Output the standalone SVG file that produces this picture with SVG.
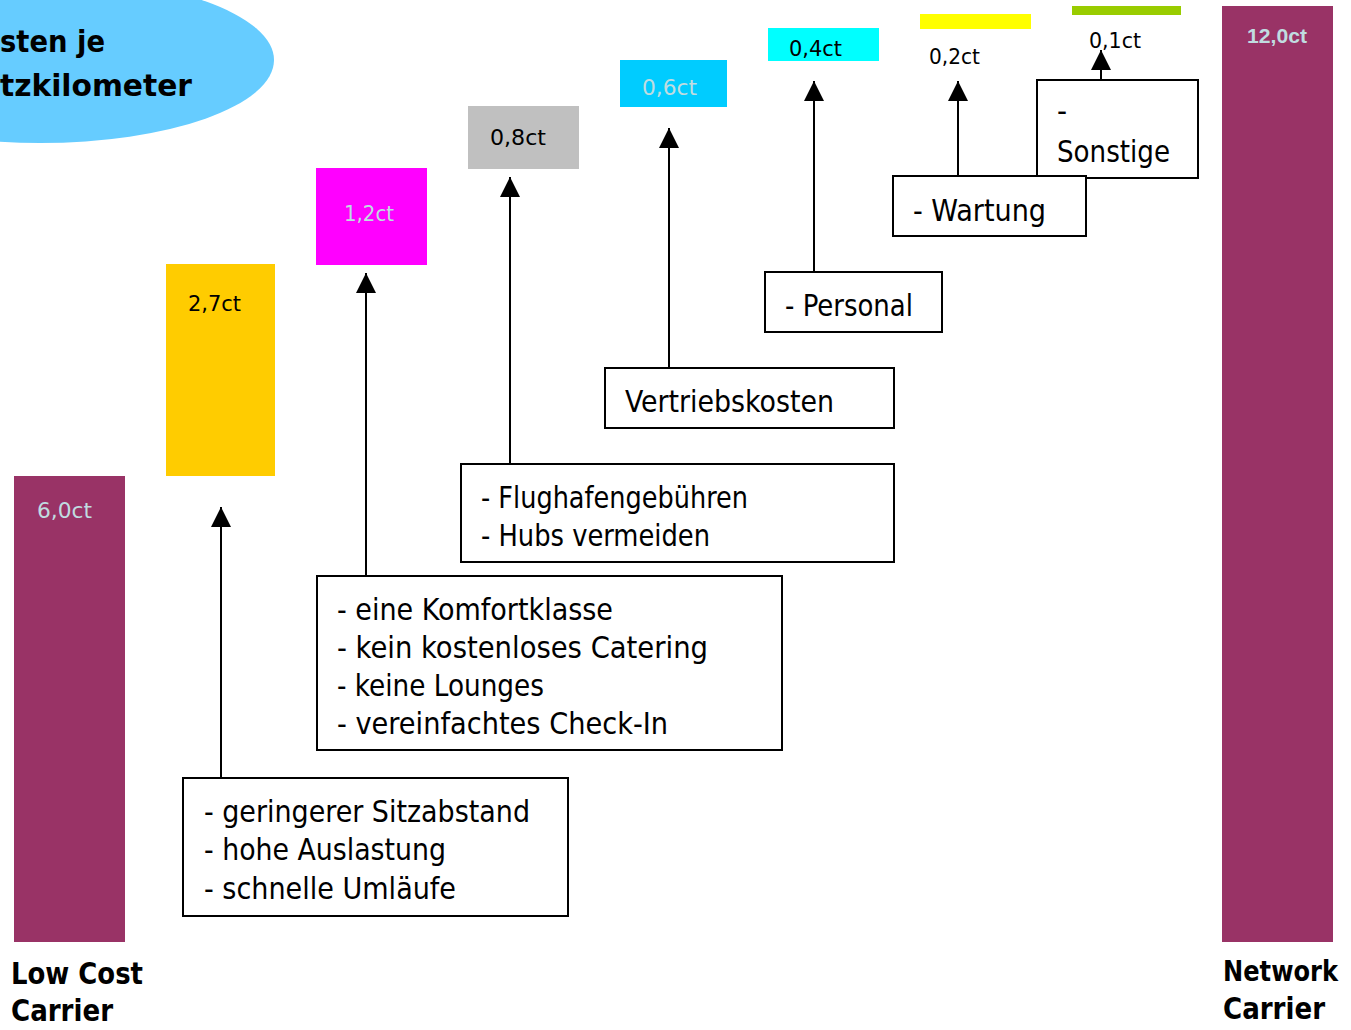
<svg xmlns="http://www.w3.org/2000/svg" width="1351" height="1030" viewBox="0 0 1351 1030">
<defs>
<style>
.t{font-family:"Liberation Sans Narrow","DejaVu Sans Condensed","Liberation Sans",sans-serif;font-size:31px;fill:#000}
.v{font-family:"Liberation Sans Narrow","DejaVu Sans Condensed","Liberation Sans",sans-serif;font-size:22px}
.h{font-family:"Liberation Sans Narrow","DejaVu Sans Condensed","Liberation Sans",sans-serif;font-size:31px;font-weight:bold;fill:#000}
.lt{fill:#C0DCE0}
.bx{fill:#fff;stroke:#000;stroke-width:2}
.c{stroke:#000;stroke-width:2;fill:none;marker-end:url(#ah)}
</style>
<marker id="ah" viewBox="0 0 10 10" refX="10" refY="5" markerUnits="userSpaceOnUse" markerWidth="20" markerHeight="21" orient="auto">
<path d="M0,0 L10,5 L0,10 Z" fill="#000"/>
</marker>
</defs>
<rect width="1351" height="1030" fill="#fff"/>

<g id="title">
<ellipse cx="40" cy="60" rx="234" ry="83" fill="#66CCFF"/>
<text class="h" x="0" y="52" textLength="105" lengthAdjust="spacingAndGlyphs">sten je</text>
<text class="h" x="0" y="96" textLength="192" lengthAdjust="spacingAndGlyphs">tzkilometer</text>
</g>

<g id="bar-lowcost">
<rect x="14" y="476" width="111" height="466" fill="#993366"/>
<text class="v lt" x="37" y="518" textLength="55" lengthAdjust="spacingAndGlyphs">6,0ct</text>
<text class="h" x="11" y="984" textLength="132" lengthAdjust="spacingAndGlyphs">Low Cost</text>
<text class="h" x="11" y="1021" textLength="102" lengthAdjust="spacingAndGlyphs">Carrier</text>
</g>

<g id="bar-27">
<rect x="166" y="264" width="109" height="212" fill="#FFCC00"/>
<text class="v" x="188" y="311" textLength="53" lengthAdjust="spacingAndGlyphs">2,7ct</text>
</g>
<g id="bar-12">
<rect x="316" y="168" width="111" height="97" fill="#FF00FF"/>
<text class="v lt" x="344" y="221" textLength="50" lengthAdjust="spacingAndGlyphs">1,2ct</text>
</g>
<g id="bar-08">
<rect x="468" y="106" width="111" height="63" fill="#C0C0C0"/>
<text class="v" x="490" y="145" textLength="56" lengthAdjust="spacingAndGlyphs">0,8ct</text>
</g>
<g id="bar-06">
<rect x="620" y="60" width="107" height="47" fill="#00CCFF"/>
<text class="v lt" x="642" y="95" textLength="55" lengthAdjust="spacingAndGlyphs">0,6ct</text>
</g>
<g id="bar-04">
<rect x="768" y="28" width="111" height="33" fill="#00FFFF"/>
<text class="v" x="789" y="56" textLength="53" lengthAdjust="spacingAndGlyphs">0,4ct</text>
</g>
<g id="bar-02">
<rect x="920" y="14" width="111" height="15" fill="#FFFF00"/>
<text class="v" x="929" y="64" textLength="51" lengthAdjust="spacingAndGlyphs">0,2ct</text>
</g>
<g id="bar-01">
<rect x="1072" y="6" width="109" height="9" fill="#99CC00"/>
<text class="v" x="1089" y="48" textLength="52" lengthAdjust="spacingAndGlyphs">0,1ct</text>
</g>

<g id="bar-network">
<rect x="1222" y="6" width="111" height="936" fill="#993366"/>
<text x="1247" y="43" font-family="'Liberation Sans',Arial,sans-serif" font-size="21" font-weight="bold" fill="#C0DCE0" textLength="60" lengthAdjust="spacingAndGlyphs">12,0ct</text>
<text class="h" x="1223" y="981" font-size="28" style="font-size:28px" textLength="115" lengthAdjust="spacingAndGlyphs">Network</text>
<text class="h" x="1223" y="1019" textLength="102" lengthAdjust="spacingAndGlyphs">Carrier</text>
</g>

<g id="connectors">
<line class="c" x1="221" y1="778" x2="221" y2="507"/>
<line class="c" x1="366" y1="576" x2="366" y2="273"/>
<line class="c" x1="510" y1="464" x2="510" y2="177"/>
<line class="c" x1="669" y1="368" x2="669" y2="128"/>
<line class="c" x1="814" y1="272" x2="814" y2="81"/>
<line class="c" x1="958" y1="176" x2="958" y2="81"/>
<line class="c" x1="1101" y1="80" x2="1101" y2="50"/>
</g>

<g id="box-sitz">
<rect class="bx" x="183" y="778" width="385" height="138"/>
<text class="t" x="204" y="822" textLength="326" lengthAdjust="spacingAndGlyphs">- geringerer Sitzabstand</text>
<text class="t" x="204" y="860" textLength="242" lengthAdjust="spacingAndGlyphs">- hohe Auslastung</text>
<text class="t" x="204" y="899" textLength="252" lengthAdjust="spacingAndGlyphs">- schnelle Umläufe</text>
</g>

<g id="box-komfort">
<rect class="bx" x="317" y="576" width="465" height="174"/>
<text class="t" x="337" y="620" textLength="276" lengthAdjust="spacingAndGlyphs">- eine Komfortklasse</text>
<text class="t" x="337" y="658" textLength="371" lengthAdjust="spacingAndGlyphs">- kein kostenloses Catering</text>
<text class="t" x="337" y="696" textLength="207" lengthAdjust="spacingAndGlyphs">- keine Lounges</text>
<text class="t" x="337" y="734" textLength="331" lengthAdjust="spacingAndGlyphs">- vereinfachtes Check-In</text>
</g>

<g id="box-flughafen">
<rect class="bx" x="461" y="464" width="433" height="98"/>
<text class="t" x="481" y="508" textLength="267" lengthAdjust="spacingAndGlyphs">- Flughafengebühren</text>
<text class="t" x="481" y="546" textLength="229" lengthAdjust="spacingAndGlyphs">- Hubs vermeiden</text>
</g>

<g id="box-vertrieb">
<rect class="bx" x="605" y="368" width="289" height="60"/>
<text class="t" x="625" y="412" textLength="209" lengthAdjust="spacingAndGlyphs">Vertriebskosten</text>
</g>

<g id="box-personal">
<rect class="bx" x="765" y="272" width="177" height="60"/>
<text class="t" x="785" y="316" textLength="128" lengthAdjust="spacingAndGlyphs">- Personal</text>
</g>

<g id="box-sonstige">
<rect class="bx" x="1037" y="80" width="161" height="98"/>
<text class="t" x="1057" y="121">-</text>
<text class="t" x="1057" y="162" textLength="113" lengthAdjust="spacingAndGlyphs">Sonstige</text>
</g>

<g id="box-wartung">
<rect class="bx" x="893" y="176" width="193" height="60"/>
<text class="t" x="913" y="221" textLength="133" lengthAdjust="spacingAndGlyphs">- Wartung</text>
</g>
</svg>
